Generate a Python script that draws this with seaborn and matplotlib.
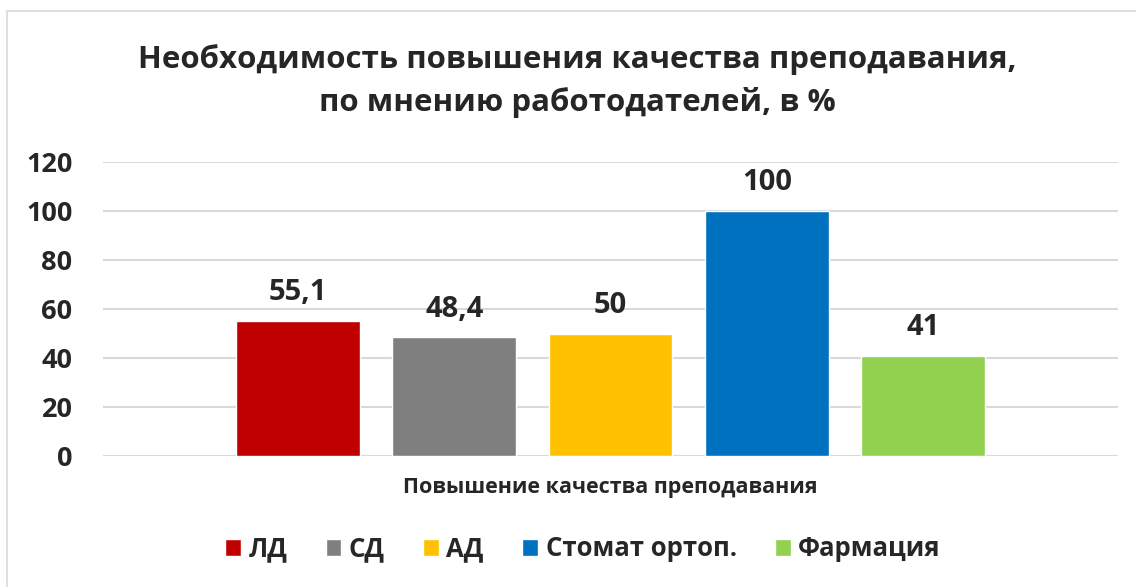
import pandas as pd
import matplotlib.pyplot as plt
import matplotlib.patches as mpatches
import seaborn as sns

# data
category = ["Повышение качества преподавания"]
groups = ["ЛД", "СД", "АД", "Стомат ортоп.", "Фармация"]
values = [55.1, 48.4, 50, 100, 41]
colors = ["#C00000", "#7F7F7F", "#FFC000", "#0070C0", "#92D050"]

df = pd.DataFrame({"cat": category * len(groups), "group": groups, "value": values})

sns.set_style("white")
plt.rcParams["font.family"] = ["Open Sans", "DejaVu Sans"]
plt.rcParams["font.weight"] = "bold"

fig = plt.figure(figsize=(11.36, 5.87), dpi=100)
ax = fig.add_axes([103 / 1136, 1 - 456 / 587, (1118 - 103) / 1136, (456 - 162) / 587])

sns.barplot(data=df, x="cat", y="value", hue="group", palette=colors,
            width=0.77, gap=0.21, saturation=1, ax=ax, legend=True)

# value labels with comma decimal
for cont, v in zip(ax.containers, values):
    txt = f"{v:g}".replace(".", ",")
    ax.bar_label(cont, labels=[txt], padding=10, fontsize=21, fontweight="bold")

ax.set_ylim(0, 120)
ax.set_yticks(range(0, 121, 20))
ax.set_xlim(-0.5, 0.5)
ax.yaxis.grid(True, color="#d9d9d9", linewidth=1.5)
ax.set_axisbelow(True)
for s in ax.spines.values():
    s.set_visible(False)
ax.tick_params(axis="y", length=0, pad=22, labelsize=19.5)
ax.tick_params(axis="x", length=0, pad=15, labelsize=15.5)
ax.set_xlabel("")
ax.set_ylabel("")
for lbl in ax.get_yticklabels() + ax.get_xticklabels():
    lbl.set_fontweight("bold")

sns.move_legend(ax, "center", bbox_to_anchor=(583 / 1136, 1 - 549 / 587),
                bbox_transform=fig.transFigure, ncol=5, frameon=False, title=None,
                fontsize=18.5, handlelength=0.6, handleheight=0.6,
                handletextpad=0.3, columnspacing=1.5)
for t in ax.get_legend().get_texts():
    t.set_fontweight("bold")

fig.text(577 / 1136, 1 - 81 / 587, "Необходимость повышения качества преподавания,\nпо мнению работодателей, в %",
         ha="center", va="center", fontsize=22.5, fontweight="bold", linespacing=1.5)

# chart border
fig.patches.append(mpatches.Rectangle((7 / 1136, -0.05), 1.1, 1 - 11 / 587 + 0.05,
                                      transform=fig.transFigure, fill=False,
                                      edgecolor="#d9d9d9", linewidth=1.2))

fig.savefig("out.png", dpi=100)
